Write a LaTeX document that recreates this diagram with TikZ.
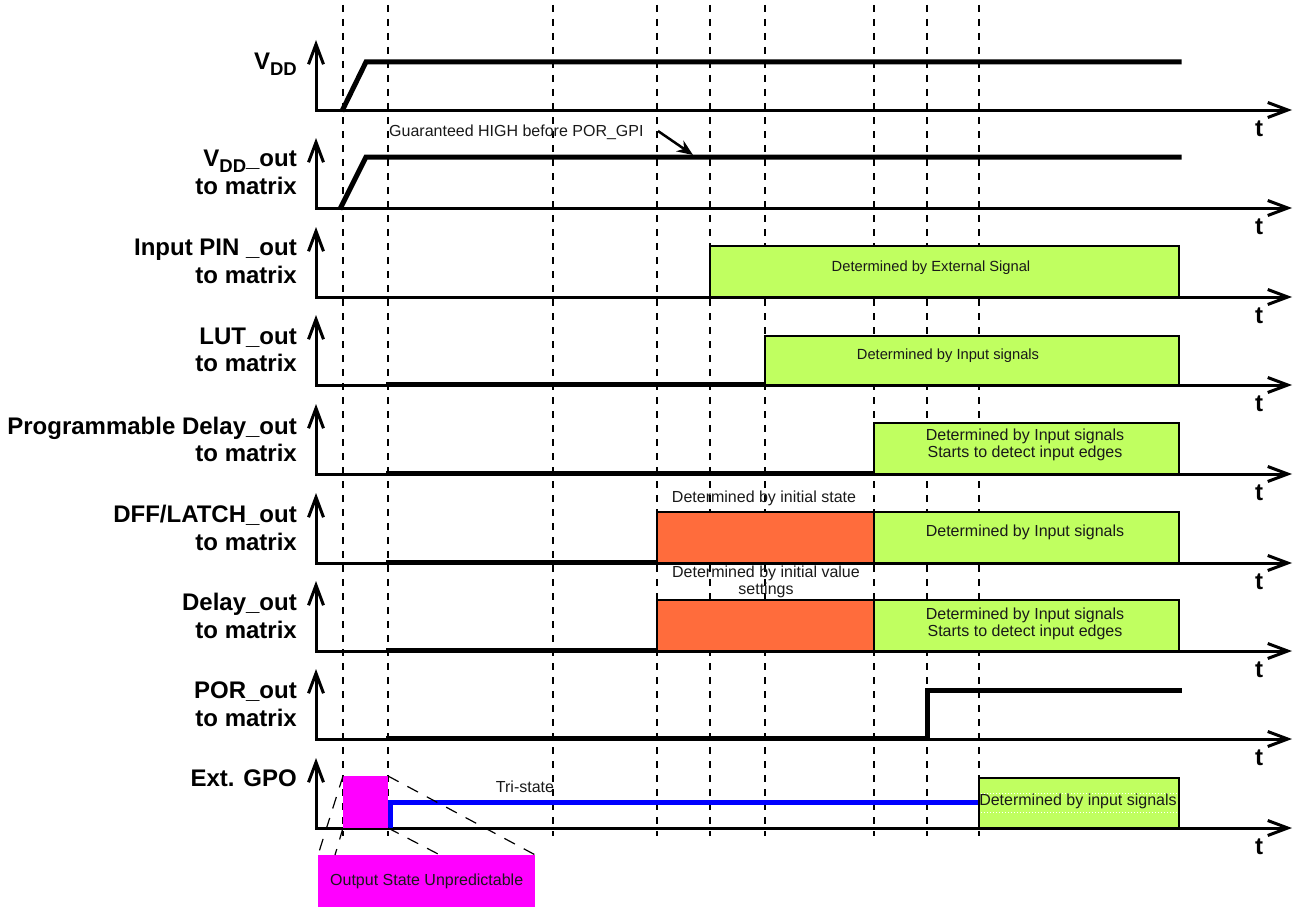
\documentclass[tikz,border=0pt]{standalone}
\usepackage{fontspec}
\setmainfont{Liberation Sans}
\usetikzlibrary{arrows.meta}
\definecolor{lgreen}{RGB}{192,255,96}
\definecolor{orng}{RGB}{255,108,60}
\definecolor{mag}{RGB}{255,0,255}
\definecolor{txtdark}{RGB}{25,25,25}
\begin{document}
\begin{tikzpicture}[x=1pt,y=-1pt,
  lab/.style={font=\fontsize{24}{28}\selectfont\bfseries, anchor=base east, inner sep=0pt},
  tlab/.style={font=\fontsize{24}{28}\selectfont\bfseries, anchor=base, inner sep=0pt},
  smalltext/.style={font=\fontsize{14.7}{16.5}\selectfont, text=txtdark, align=center, inner sep=0pt},
  midtext/.style={font=\fontsize{16}{16.5}\selectfont, text=txtdark, align=center, inner sep=0pt},
  axisline/.style={line width=3pt, {Straight Barb[length=20pt,width=15pt,line width=3pt]}-{Straight Barb[length=20pt,width=15pt,line width=3pt]}},
  sig/.style={line width=5pt, line join=miter, line cap=rect},
  vguide/.style={line width=2pt, dash pattern=on 7pt off 7pt},
  zoomline/.style={line width=1.2pt, dash pattern=on 12pt off 10pt},
  greenbox/.style={fill=lgreen, draw=black, line width=2.5pt},
  orangebox/.style={fill=orng, draw=black, line width=2.5pt}
]
\useasboundingbox (0,0) rectangle (1294,907);

% vertical dashed guides
\foreach \gx in {343,388,553,657,710,765,874,927,979}
  \draw[vguide] (\gx,5) -- (\gx,836);

% axes
\foreach \b in {110,208,297,385,474,563,651,739,828} {
  \draw[axisline] (316,\b-70) -- (316,\b) -- (1292,\b);
  \node[tlab] at (1259,\b+26) {t};
}

% labels
\node[lab] (l1) at (297,70) {V\raisebox{-6pt}{\fontsize{18.5}{18.5}\selectfont\bfseries DD}};
\node[lab] (l2a) at (297,166) {V\raisebox{-6pt}{\fontsize{18.5}{18.5}\selectfont\bfseries DD}\_out};
\node[lab] (l2b) at (297,194) {to matrix};
\node[lab] (l3a) at (297,255) {Input PIN \_out};
\node[lab] (l3b) at (297,283) {to matrix};
\node[lab] (l4a) at (297,344) {LUT\_out};
\node[lab] (l4b) at (297,371) {to matrix};
\node[lab] (l5a) at (297,434) {Programmable Delay\_out};
\node[lab] (l5b) at (297,461) {to matrix};
\node[lab] (l6a) at (297,522) {DFF/LATCH\_out};
\node[lab] (l6b) at (297,550) {to matrix};
\node[lab] (l7a) at (297,610) {Delay\_out};
\node[lab] (l7b) at (297,638) {to matrix};
\node[lab] (l8a) at (297,698) {POR\_out};
\node[lab] (l8b) at (297,726) {to matrix};
\node[lab] (l9) at (297,786) {Ext. GPO};

% row 1: VDD
\draw[sig] (343,109) -- (366,62) -- (1179,62);
% row 2: VDD_out
\draw[sig] (341,207) -- (366,157) -- (1179,157);
\node[midtext, anchor=west] (guar) at (389,132) {Guaranteed HIGH before POR\_GPI};
\coordinate (guarend) at (693,155);
\draw[line width=2.5pt, -{Stealth[length=16pt,width=13pt]}] (658,131) -- (guarend);

% row 3: Input PIN
\draw[greenbox] (710,246) rectangle (1179,297);
\node[smalltext] (t3) at (931,268) {Determined by External Signal};

% row 4: LUT
\draw[sig] (388,384) -- (765,384);
\draw[greenbox] (765,336) rectangle (1179,385);
\node[smalltext] (t4) at (948,356) {Determined by Input signals};

% row 5: Programmable delay
\draw[sig] (388,473) -- (874,473);
\draw[greenbox] (874,423) rectangle (1179,474);
\node[midtext] (t5) at (1025,445) {Determined by Input signals\\Starts to detect input edges};

% row 6: DFF/LATCH
\draw[sig] (388,562) -- (657,562);
\draw[orangebox] (657,512) rectangle (874,563);
\draw[greenbox] (874,512) rectangle (1179,563);
\node[midtext] (t6o) at (764,498) {Determined by initial state};
\node[midtext] (t6) at (1025,532) {Determined by Input signals};

% row 7: Delay
\draw[sig] (388,650) -- (657,650);
\draw[orangebox] (657,600) rectangle (874,651);
\draw[greenbox] (874,600) rectangle (1179,651);
\node[midtext] (t7o) at (766,582) {Determined by initial value\\settings};
\node[midtext] (t7) at (1025,624) {Determined by Input signals\\Starts to detect input edges};

% row 8: POR
\draw[sig] (388,738) -- (927,738) -- (927,690) -- (1179,690);

% row 9: Ext GPO
\fill[mag] (343,776) rectangle (388,828);
\draw[line width=5pt, blue, line join=miter] (390,828) -- (390,802) -- (979,802);
\node[midtext] (tri) at (525,787) {Tri-state};
\draw[greenbox] (979,778) rectangle (1179,828);
\draw[white, line width=1pt, dotted] (981,793) -- (1177,793);
\draw[white, line width=1pt, dotted] (981,812) -- (1177,812);
\node[midtext] (t9) at (1078,801) {Determined by input signals};

% zoom callout
\node[fill=mag, minimum width=217pt, minimum height=52pt, inner sep=0pt, anchor=north west,
      font=\fontsize{16}{16}\selectfont, text=txtdark] (osu) at (318,855) {Output State Unpredictable};
\draw[zoomline] (343,776) -- (osu.north west);
\draw[zoomline] (343,828) -- (335,855);
\draw[zoomline] (388,776) -- (osu.north east);
\draw[zoomline] (388,828) -- (440,855);
\end{tikzpicture}
\end{document}
